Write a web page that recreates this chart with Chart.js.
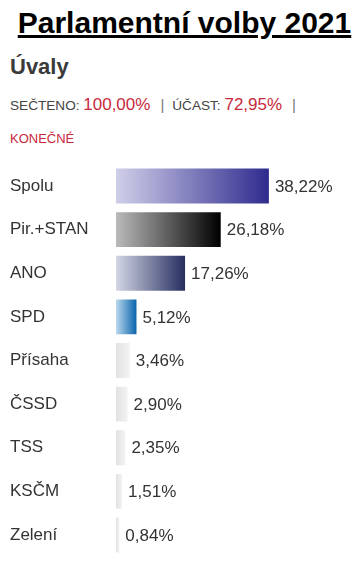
<!DOCTYPE html>
<html lang="cs">
<head>
<meta charset="utf-8">
<script src="https://cdn.jsdelivr.net/npm/chart.js@4"></script>
<style>
  body { margin: 0; width: 359px; height: 567px; background: #fff; font-family: "Liberation Sans", Arial, sans-serif; overflow: hidden; }
  .abs { position: absolute; white-space: nowrap; }
  #title { left: 0; width: 359px; text-align: center; top: 8px; font-size: 30px; line-height: 30px; font-weight: bold; text-decoration: underline; color: #000; padding-left: 10px; box-sizing: border-box; }
  #town { left: 10px; top: 56px; font-size: 22px; line-height: 22px; font-weight: bold; color: #3a3a3a; }
  #status { left: 10px; top: 95px; font-size: 17px; line-height: 20px; color: #444; }
  .lbl { font-size: 13.6px; color: #444; }
  .num { color: #c8283c; }
  .sep { color: #777; font-size: 15px; margin: 0 8px 0 10px; }
  #final { left: 10px; top: 132px; font-size: 13px; line-height: 14px; color: #c8283c; }
  #wrap { position: absolute; left: 0; top: 154px; width: 359px; height: 413px; }
</style>
</head>
<body>
<div id="title" class="abs">Parlamentní volby 2021</div>
<div id="town" class="abs">Úvaly</div>
<div id="status" class="abs"><span class="lbl">SEČTENO: </span><span class="num" id="counted"></span><span class="sep">|</span><span class="lbl">ÚČAST: </span><span class="num" id="turnout"></span><span class="sep">|</span></div>
<div id="final" class="abs">KONEČNÉ</div>
<div id="wrap"><canvas id="chart"></canvas></div>
<script>
// vysledky - Úvaly
let parties = ['Spolu', 'Pir.+STAN', 'ANO', 'SPD', 'Přísaha', 'ČSSD', 'TSS', 'KSČM', 'Zelení'];
let results = [38.22, 26.18, 17.26, 5.12, 3.46, 2.90, 2.35, 1.51, 0.84];
let counted = 100.00;
let turnout = 72.95;

// barvy gradientu (zleva doprava)
let colorsFrom = ['#d0cfe9', '#bababa', '#d3d6e4', '#bad8ee', '#e2e2e2', '#e2e2e2', '#e2e2e2', '#e2e2e2', '#e2e2e2'];
let colorsTo = ['#2f2b8e', '#000000', '#262e60', '#0a64ab', '#f3f3f3', '#f3f3f3', '#f3f3f3', '#f3f3f3', '#f3f3f3'];

function fmt(v) {
  return v.toFixed(2).replace('.', ',') + '%';
}

document.getElementById('counted').textContent = fmt(counted);
document.getElementById('turnout').textContent = fmt(turnout);

let valueLabels = {
  id: 'valueLabels',
  afterDatasetsDraw(chart) {
    let ctx = chart.ctx;
    let meta = chart.getDatasetMeta(0);
    ctx.save();
    ctx.font = '17px "Liberation Sans", Arial, sans-serif';
    ctx.fillStyle = '#333';
    ctx.textBaseline = 'middle';
    meta.data.forEach((bar, i) => {
      ctx.fillText(fmt(results[i]), bar.x + 6, bar.y + 1);
    });
    ctx.restore();
  }
};

let donationChart = document.getElementById('chart');
let myChart = new Chart(donationChart, {
  type: 'bar',
  data: {
    labels: parties,
    datasets: [{
      data: results,
      categoryPercentage: 0.8,
      barPercentage: 1,
      backgroundColor: function(c) {
        let chart = c.chart;
        if (!chart.chartArea || c.type !== 'data') return colorsFrom[0];
        let x = chart.scales.x;
        let x0 = x.getPixelForValue(0);
        let x1 = x.getPixelForValue(results[c.dataIndex]);
        let g = chart.ctx.createLinearGradient(x0, 0, Math.max(x1, x0 + 1), 0);
        g.addColorStop(0, colorsFrom[c.dataIndex]);
        g.addColorStop(1, colorsTo[c.dataIndex]);
        return g;
      }
    }]
  },
  options: {
    indexAxis: 'y',
    responsive: true,
    maintainAspectRatio: false,
    animation: false,
    layout: { padding: { left: 10, right: 3, top: 0, bottom: 0 } },
    plugins: { legend: { display: false }, tooltip: { enabled: false } },
    scales: {
      x: { display: false, min: 0, max: 60 },
      y: {
        grid: { display: false },
        border: { display: false },
        ticks: {
          crossAlign: 'far',
          padding: 0,
          color: '#333',
          font: { family: '"Liberation Sans", Arial, sans-serif', size: 17 }
        },
        afterFit(scale) { scale.width = 106; }
      }
    }
  },
  plugins: [valueLabels]
});
</script>
</body>
</html>
